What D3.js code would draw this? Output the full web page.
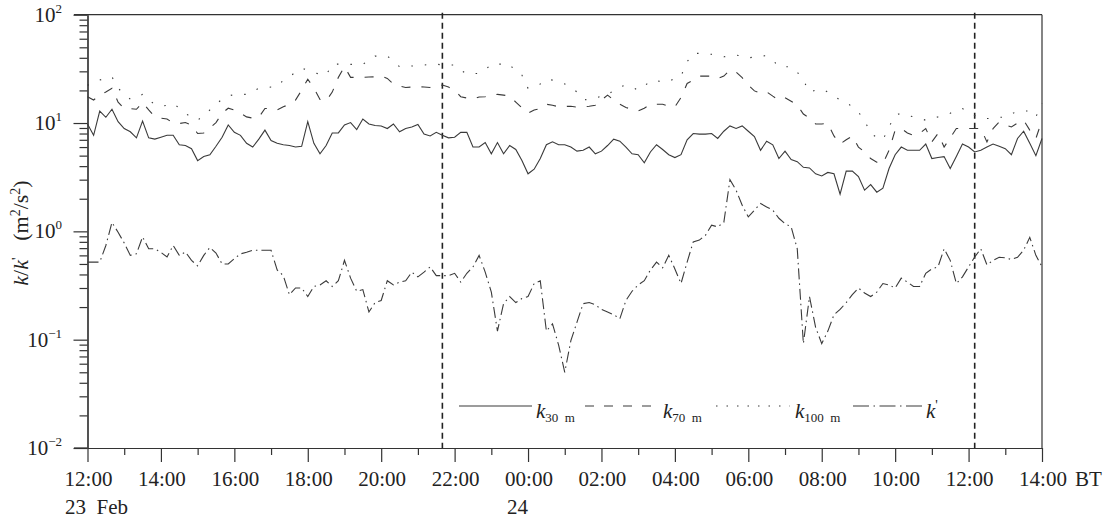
<!DOCTYPE html>
<html><head><meta charset="utf-8">
<script src="https://cdn.jsdelivr.net/npm/d3@7"></script>
<style>
body{margin:0;background:#fff;}
svg{display:block;font-family:"Liberation Serif","Times New Roman",serif;}
</style>
</head><body>
<svg id="chart" width="1108" height="522"></svg>
<script>
// ---------------- data ----------------
const startTime = new Date(2000, 1, 23, 12, 0);
const endTime = new Date(2000, 1, 24, 14, 0);
const stepMinutes = 10;

const k30 = [9.8,7.7,12.9,11.3,13.4,10.3,8.9,8.3,7.3,10.4,
7.3,7.1,7.4,7.7,7.7,6.3,6.2,5.8,4.5,4.9,
5.1,6.1,7.4,9.6,8.2,7.7,6.5,6.0,7.1,8.6,
6.9,6.5,6.3,6.2,6.0,6.1,10.3,6.5,5.2,6.2,
8.1,8.1,9.6,10.1,8.7,10.9,9.8,9.5,9.4,8.9,
9.8,8.3,8.9,9.2,9.7,7.9,7.6,8.2,7.7,7.3,
7.4,8.2,8.2,6.0,6.0,6.6,5.2,6.6,5.2,6.2,
5.7,4.5,3.4,3.75,4.7,6.3,6.7,6.3,6.3,6.0,
5.5,5.6,6.0,5.2,5.5,6.2,7.1,6.8,6.0,5.2,
5.1,4.3,5.4,6.3,5.7,5.1,4.8,5.1,7.0,8.0,
7.9,7.9,8.0,7.2,8.4,9.4,8.9,9.4,8.4,7.5,
5.6,6.8,6.3,4.7,5.5,4.6,4.4,3.9,3.85,3.4,
3.25,3.5,3.4,2.2,3.6,3.6,3.2,2.4,2.7,2.3,
2.5,3.8,5.1,6.0,5.6,5.6,5.6,6.4,4.7,4.8,
4.9,3.8,4.9,6.4,6.0,5.4,5.6,6.0,6.4,6.1,
5.8,5.1,7.2,8.4,6.5,5.0,7.2];

const k70 = [17.5,16.3,18.1,19.3,20.9,15.6,13.6,13.6,13.4,15.5,
13.2,11.4,11.1,10.9,10.0,9.9,10.1,9.6,8.0,8.1,
9.0,10.1,12.3,13.7,13.2,12.3,11.4,11.1,11.3,13.6,
13.7,13.2,14.1,14.9,16.3,20.1,25.4,21.0,16.5,16.0,
19.3,26.4,33.1,26.4,26.4,26.4,26.6,26.7,27.1,25.8,
22.9,21.9,21.3,21.5,21.6,21.5,21.3,21.9,22.4,21.5,
20.1,17.5,17.0,16.6,17.4,17.5,18.1,18.4,18.1,17.7,
15.6,13.8,12.3,13.2,13.6,14.9,14.6,14.1,14.2,14.3,
14.0,14.1,14.3,14.6,16.3,18.1,16.3,14.9,13.9,13.4,
12.9,13.7,14.9,14.9,14.9,14.3,14.1,17.2,23.2,24.9,
27.1,27.1,27.1,25.8,27.1,30.8,29.5,26.2,22.4,19.8,
18.8,19.4,17.7,16.3,17.1,15.9,14.6,12.1,11.1,9.8,
9.8,9.9,7.6,6.4,7.0,7.6,6.0,5.4,4.7,4.35,
4.23,5.6,8.6,8.9,8.1,7.7,8.0,8.9,6.7,8.0,
6.0,7.3,8.9,8.9,8.9,8.9,8.9,6.7,8.9,10.2,
9.6,9.2,10.0,10.6,8.6,7.2,10.6];

const k100 = [22.4,22.9,24.9,26.0,26.7,21.0,18.4,16.6,17.0,18.4,
16.3,14.9,14.3,14.6,15.2,13.7,12.3,11.3,10.6,11.8,
13.2,14.9,16.6,17.7,18.4,18.4,18.4,19.7,20.9,21.0,
21.5,21.6,24.9,26.7,29.5,32.0,30.8,29.1,28.3,27.7,
34.8,35.0,35.0,34.8,34.7,34.8,38.1,41.5,41.5,41.5,
37.3,33.1,33.2,33.6,33.6,34.3,35.0,35.0,34.3,34.3,
34.3,30.8,28.3,28.6,28.7,30.8,35.0,35.0,35.0,35.0,
29.5,27.7,20.9,21.9,22.9,25.4,24.9,24.0,22.9,21.6,
19.3,16.5,16.3,17.0,17.7,18.1,20.1,21.5,22.4,21.5,
20.1,21.9,24.5,24.4,24.2,24.0,26.0,27.1,36.8,44.0,
43.9,43.4,43.1,42.4,40.9,41.5,42.4,41.5,40.0,40.6,
41.5,41.8,38.1,33.1,33.1,33.1,29.5,24.9,19.2,20.1,
20.6,19.3,17.8,16.3,15.5,14.1,12.6,10.6,8.0,7.4,
7.0,9.2,11.8,12.3,11.8,11.4,11.1,10.6,11.1,11.4,
11.8,12.3,13.2,13.6,12.6,11.7,11.3,11.0,11.1,11.3,
11.3,12.1,12.9,12.9,12.9,11.4,15.2];

const kPrime = [0.52,0.52,0.52,0.74,1.21,0.98,0.78,0.60,0.62,0.89,
0.69,0.69,0.64,0.58,0.74,0.60,0.645,0.54,0.48,0.60,
0.71,0.63,0.50,0.50,0.56,0.62,0.64,0.67,0.67,0.67,
0.67,0.44,0.39,0.26,0.30,0.30,0.25,0.31,0.32,0.35,
0.31,0.35,0.54,0.37,0.28,0.29,0.18,0.22,0.23,0.35,
0.32,0.34,0.35,0.42,0.38,0.42,0.47,0.39,0.39,0.39,
0.41,0.34,0.41,0.47,0.60,0.42,0.275,0.12,0.215,0.25,
0.22,0.24,0.25,0.33,0.35,0.12,0.14,0.089,0.050,0.098,
0.145,0.215,0.22,0.21,0.19,0.18,0.17,0.156,0.23,0.28,
0.32,0.35,0.44,0.52,0.46,0.60,0.45,0.33,0.52,0.80,
0.83,0.92,1.14,1.10,1.21,3.0,2.4,1.74,1.36,1.57,
1.81,1.68,1.57,1.32,1.18,1.10,0.69,0.092,0.25,0.13,
0.092,0.12,0.17,0.19,0.22,0.26,0.30,0.27,0.25,0.275,
0.33,0.32,0.30,0.37,0.34,0.31,0.31,0.41,0.45,0.47,
0.69,0.54,0.33,0.38,0.47,0.58,0.69,0.49,0.54,0.576,
0.57,0.55,0.576,0.67,0.88,0.60,0.47];

const markerTimes = [new Date(2000, 1, 23, 21, 40), new Date(2000, 1, 24, 12, 10)];
const yMajorExponents = [2, 1, 0, -1, -2];
const seriesNames = ["30 m", "70 m", "100 m", "'"];

// ---------------- chart ----------------
const svg = d3.select("#chart");
const ink = "#333";
const times = d3.range(k30.length).map(i => d3.timeMinute.offset(startTime, i * stepMinutes));

const x = d3.scaleTime().domain([startTime, endTime]).range([87.5, 1042]);
const y = d3.scaleLog().domain([0.01, 100]).range([448, 14.7]);

// minor y ticks
const yMinor = [];
for (let e = -2; e < 2; e++) for (let m = 2; m <= 9; m++) yMinor.push(m * Math.pow(10, e));

const gYmin = svg.append("g").attr("transform", `translate(${x.range()[0]},0)`)
  .call(d3.axisLeft(y).tickValues(yMinor).tickSize(8).tickFormat("").tickSizeOuter(0));
const gYmaj = svg.append("g").attr("transform", `translate(${x.range()[0]},0)`)
  .call(d3.axisLeft(y).tickValues(yMajorExponents.map(e => Math.pow(10, e))).tickSize(14).tickFormat("").tickSizeOuter(0));
[gYmin, gYmaj].forEach(g => { g.selectAll("line,path").attr("stroke", ink).attr("stroke-width", 1.2); });

// y tick labels
yMajorExponents.forEach(e => {
  const t = svg.append("text").attr("x", 62).attr("y", y(Math.pow(10, e)) + 7)
    .attr("text-anchor", "end").attr("font-size", 21).attr("fill", "#222");
  t.append("tspan").text("10");
  t.append("tspan").attr("font-size", 13).attr("dy", -9).text(e < 0 ? "\u2212" + (-e) : String(e));
});

// x axis
const hourTicks = d3.timeHour.every(1).range(startTime, d3.timeMinute.offset(endTime, 1));
const evenTicks = hourTicks.filter(d => d.getHours() % 2 === 0);
const oddTicks = hourTicks.filter(d => d.getHours() % 2 === 1);
const gXmin = svg.append("g").attr("transform", `translate(0,${y.range()[0]})`)
  .call(d3.axisBottom(x).tickValues(oddTicks).tickSize(7).tickFormat("").tickSizeOuter(0));
const gXmaj = svg.append("g").attr("transform", `translate(0,${y.range()[0]})`)
  .call(d3.axisBottom(x).tickValues(evenTicks).tickSize(14).tickFormat("").tickSizeOuter(0));
[gXmin, gXmaj].forEach(g => { g.selectAll("line,path").attr("stroke", ink).attr("stroke-width", 1.2); });

const fmt = d3.timeFormat("%H:%M");
evenTicks.forEach(d => {
  svg.append("text").attr("x", x(d) + 1).attr("y", 486).attr("text-anchor", "middle")
    .attr("font-size", 21).attr("fill", "#222").text(fmt(d));
});
svg.append("text").attr("x", 1075).attr("y", 486).attr("font-size", 21).attr("fill", "#222").text("BT");
svg.append("text").attr("x", 65).attr("y", 514).attr("font-size", 21).attr("fill", "#222").attr("xml:space", "preserve").text("23  Feb");
svg.append("text").attr("x", 507).attr("y", 514).attr("font-size", 21).attr("fill", "#222").text("24");

// frame: extended lines at bottom-left and top
svg.append("line").attr("x1", 74).attr("x2", x.range()[1]).attr("y1", y.range()[1]).attr("y2", y.range()[1])
  .attr("stroke", ink).attr("stroke-width", 1.2);
svg.append("line").attr("x1", 74).attr("x2", x.range()[0]).attr("y1", y.range()[0]).attr("y2", y.range()[0])
  .attr("stroke", ink).attr("stroke-width", 1.2);
svg.append("line").attr("x1", x.range()[1]).attr("x2", x.range()[1]).attr("y1", y.range()[1]).attr("y2", y.range()[0])
  .attr("stroke", ink).attr("stroke-width", 1.2);

// y title
const yt = svg.append("text").attr("transform", "translate(28,233) rotate(-90)")
  .attr("text-anchor", "middle").attr("font-size", 22).attr("fill", "#222");
yt.append("tspan").attr("font-style", "italic").text("k");
yt.append("tspan").text("/");
yt.append("tspan").attr("font-style", "italic").text("k");
yt.append("tspan").attr("font-size", 15).attr("dy", -6).text("'");
yt.append("tspan").attr("dy", 6).attr("xml:space", "preserve").text("   (m");
yt.append("tspan").attr("font-size", 14).attr("dy", -8).text("2");
yt.append("tspan").attr("dy", 8).text("/s");
yt.append("tspan").attr("font-size", 14).attr("dy", -8).text("2");
yt.append("tspan").attr("dy", 8).text(")");

// marker lines
markerTimes.forEach(t => {
  svg.append("line").attr("x1", x(t)).attr("x2", x(t)).attr("y1", y.range()[1] - 2).attr("y2", y.range()[0])
    .attr("stroke", "#222").attr("stroke-width", 1.6).attr("stroke-dasharray", "6,4");
});

// series
const styles = [
  { data: k30, dash: null },
  { data: k70, dash: "9,11" },
  { data: k100, dash: "1.5,12" },
  { data: kPrime, dash: "11,4,1.5,4" }
];
const line = d3.line().x((d, i) => x(times[i])).y(d => y(d));
styles.forEach(s => {
  svg.append("path").datum(s.data).attr("d", line).attr("fill", "none")
    .attr("stroke", "#3a3a3a").attr("stroke-width", 1.1)
    .attr("stroke-dasharray", s.dash);
});

// legend
const legend = [
  { x1: 459, x2: 532, tx: 536, dash: null, sub: seriesNames[0] },
  { x1: 585, x2: 655, tx: 663, dash: "9,10", sub: seriesNames[1] },
  { x1: 716, x2: 790, tx: 795, dash: "1.5,9", sub: seriesNames[2] },
  { x1: 853, x2: 922, tx: 926, dash: "16,4.5,1.5,4.5", sup: seriesNames[3] }
];
legend.forEach(l => {
  svg.append("line").attr("x1", l.x1).attr("x2", l.x2).attr("y1", 406).attr("y2", 406)
    .attr("stroke", "#3a3a3a").attr("stroke-width", 1.1).attr("stroke-dasharray", l.dash);
  const t = svg.append("text").attr("x", l.tx).attr("y", 418).attr("font-size", 21).attr("fill", "#222");
  t.append("tspan").attr("font-style", "italic").text("k");
  if (l.sub) t.append("tspan").attr("font-size", 13).attr("dy", 4).attr("xml:space", "preserve").text(l.sub.replace(" ", "  "));
  if (l.sup) t.append("tspan").attr("font-size", 14).attr("dy", -8).text(l.sup);
});
</script>
</body></html>
